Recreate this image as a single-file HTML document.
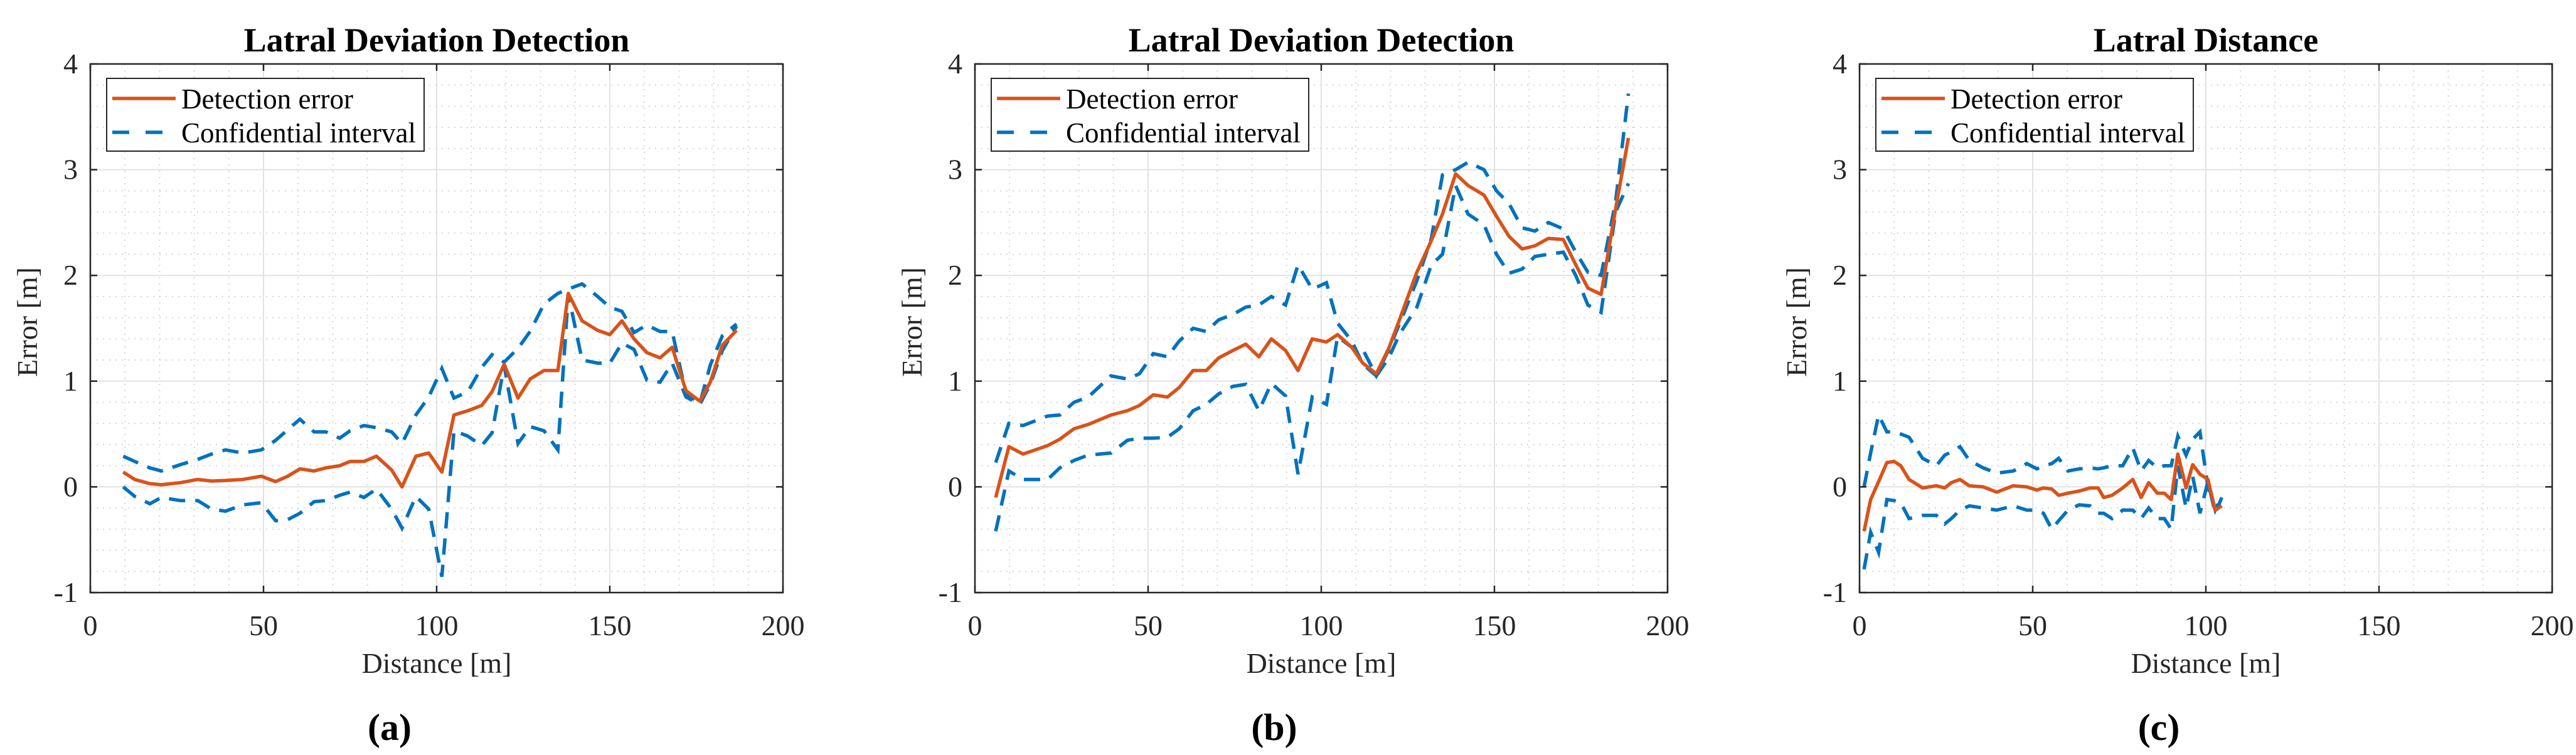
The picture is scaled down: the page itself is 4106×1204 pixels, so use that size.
<!DOCTYPE html>
<html><head><meta charset="utf-8">
<style>
html,body{margin:0;padding:0;background:#fff;}
svg{display:block;font-family:"Liberation Serif",serif;}
svg text{font-family:"Liberation Serif",serif;}
</style></head>
<body>
<svg id="fig" width="4106" height="1204" viewBox="0 0 4106 1204" xmlns="http://www.w3.org/2000/svg" font-family="Liberation Serif, serif"></svg>
<script>
// Panel (a)
const xA = [9.5,12.8,17.2,20.5,26,31,35,39,44,49.4,53.5,57,60.5,64.6,68,72,75,79,82.6,87,90,94,97.7,101.5,105,109,113,116,119.5,123.5,127,131,135,138,142,146.5,150,153.5,157,160.7,164.5,168,172,176,179,182.5,186.6];
const errA = [0.14,0.07,0.03,0.02,0.04,0.07,0.055,0.06,0.07,0.1,0.05,0.1,0.17,0.15,0.18,0.2,0.24,0.24,0.29,0.16,0,0.29,0.32,0.14,0.68,0.72,0.77,0.9,1.16,0.84,1.02,1.1,1.1,1.83,1.57,1.48,1.44,1.57,1.4,1.27,1.22,1.32,0.91,0.81,0.99,1.34,1.48];
const upA = [0.29,0.24,0.18,0.15,0.21,0.26,0.31,0.35,0.32,0.35,0.44,0.54,0.64,0.52,0.52,0.46,0.53,0.58,0.56,0.52,0.41,0.68,0.85,1.12,0.84,0.9,1.13,1.25,1.18,1.31,1.47,1.73,1.83,1.87,1.92,1.8,1.7,1.66,1.46,1.53,1.47,1.47,0.88,0.79,1.15,1.43,1.54];
const loA = [0,-0.09,-0.16,-0.1,-0.13,-0.13,-0.21,-0.23,-0.17,-0.15,-0.32,-0.31,-0.25,-0.14,-0.13,-0.08,-0.05,-0.1,-0.02,-0.21,-0.39,-0.09,-0.21,-0.85,0.53,0.48,0.39,0.51,1.15,0.41,0.57,0.53,0.35,1.82,1.2,1.17,1.17,1.36,1.3,1.01,0.99,1.17,0.85,0.78,0.97,1.29,1.52];
// Panel (b)
const xB = [6,9.8,13.9,21,24.5,28.6,32.7,39.3,44,47.5,51.5,55.6,59,63,66.8,70.4,74.5,78.2,82,85.6,89.7,93.3,97.4,101.5,104.7,108.8,112,115.9,119.5,122.7,127.6,131.8,135,138.8,142.4,147,150.6,154.2,158,161.7,165.6,169.9,173.5,177,180.8,185,188.7];
const errB = [-0.1,0.38,0.31,0.39,0.45,0.55,0.59,0.68,0.72,0.77,0.87,0.85,0.94,1.1,1.1,1.22,1.29,1.35,1.23,1.4,1.29,1.1,1.4,1.37,1.44,1.32,1.17,1.07,1.31,1.59,2.03,2.33,2.58,2.96,2.85,2.76,2.56,2.37,2.25,2.28,2.35,2.34,2.1,1.88,1.82,2.63,3.3];
const upB = [0.23,0.6,0.58,0.67,0.68,0.8,0.85,1.05,1.02,1.07,1.26,1.23,1.38,1.5,1.47,1.58,1.63,1.7,1.72,1.8,1.72,2.1,1.87,1.93,1.55,1.38,1.16,1.05,1.3,1.55,1.95,2.35,2.95,3.0,3.07,3.0,2.8,2.68,2.45,2.42,2.5,2.44,2.22,2.03,2.0,2.7,3.72];
const loB = [-0.42,0.15,0.07,0.07,0.18,0.25,0.3,0.32,0.44,0.46,0.46,0.47,0.55,0.72,0.78,0.88,0.95,0.97,0.72,0.98,0.86,0.12,0.85,0.78,1.42,1.32,1.3,1.05,1.22,1.45,1.7,2.1,2.2,2.85,2.58,2.48,2.2,2.02,2.06,2.18,2.2,2.22,2.0,1.72,1.65,2.6,2.87];
// Panel (c)
const xC = [1.3,3.2,5.5,7.9,10,11.9,14.3,18.2,22.2,24.6,26.5,29,31.7,35.7,39.6,44.4,48.3,51.2,53.1,55.5,57.5,60.2,63.4,66.6,68.9,70.5,72.9,76,78.9,81.3,83.5,86,88,90,91.9,94.3,96.2,98.3,100.6,102.7,104.6];
const errC = [-0.42,-0.12,0.05,0.23,0.24,0.2,0.07,-0.01,0.01,-0.01,0.04,0.07,0.01,0,-0.05,0.01,0,-0.03,-0.01,-0.02,-0.08,-0.06,-0.04,-0.01,-0.01,-0.1,-0.08,-0.01,0.07,-0.1,0.04,-0.06,-0.06,-0.12,0.31,-0.01,0.21,0.12,0.07,-0.22,-0.18];
const upC = [0,0.32,0.68,0.52,0.52,0.5,0.47,0.27,0.2,0.3,0.33,0.38,0.25,0.18,0.13,0.15,0.22,0.17,0.2,0.22,0.27,0.15,0.17,0.18,0.17,0.18,0.2,0.2,0.37,0.15,0.25,0.18,0.2,0.2,0.48,0.3,0.45,0.52,0,-0.22,-0.08];
const loC = [-0.78,-0.43,-0.62,-0.12,-0.13,-0.15,-0.3,-0.27,-0.27,-0.35,-0.3,-0.22,-0.18,-0.2,-0.22,-0.18,-0.22,-0.22,-0.25,-0.4,-0.32,-0.22,-0.17,-0.18,-0.25,-0.25,-0.3,-0.22,-0.22,-0.3,-0.2,-0.3,-0.3,-0.4,0.2,-0.2,0.1,-0.25,0.05,-0.25,-0.1];

const xTicks = [0,50,100,150,200];
const yTicks = [-1,0,1,2,3,4];
const titles = ["Latral Deviation Detection","Latral Deviation Detection","Latral Distance"];
const captions = ["(a)","(b)","(c)"];

const NS = "http://www.w3.org/2000/svg";
const svg = document.getElementById("fig");
function el(tag, attrs, parent, text){
  const e = document.createElementNS(NS, tag);
  for (const k in attrs) e.setAttribute(k, attrs[k]);
  if (text !== undefined) e.textContent = text;
  (parent || svg).appendChild(e);
  return e;
}
const panels = [
  {left:144, x:xA, e:errA, u:upA, l:loA},
  {left:1554, x:xB, e:errB, u:upB, l:loB},
  {left:2964, x:xC, e:errC, u:upC, l:loC}
];
const W = 1104, TOP = 102, BOT = 945;
panels.forEach((p, i) => {
  const g = el("g", {});
  
  
  const sx = v => p.left + v / 200 * W;
  const sy = v => BOT - (v + 1) / 5 * (BOT - TOP);
  for (let v = 10; v < 200; v += 10) if (v % 50) el("line",{x1:sx(v),x2:sx(v),y1:TOP,y2:BOT,stroke:"#d6d6d6","stroke-width":2,"stroke-dasharray":"2 8"},g);
  for (let k = 1; k < 25; k++) { const v = -1 + k*0.2; if (k % 5) el("line",{x1:p.left,x2:p.left+W,y1:sy(v),y2:sy(v),stroke:"#d6d6d6","stroke-width":2,"stroke-dasharray":"2 8"},g); }
  xTicks.forEach(v => { if (v>0 && v<200) el("line",{x1:sx(v),x2:sx(v),y1:TOP,y2:BOT,stroke:"#e2e2e2","stroke-width":2},g); });
  yTicks.forEach(v => { if (v>-1 && v<4) el("line",{x1:p.left,x2:p.left+W,y1:sy(v),y2:sy(v),stroke:"#e2e2e2","stroke-width":2},g); });
  const pts = arr => arr.map((v,j) => sx(p.x[j]).toFixed(1)+","+sy(v).toFixed(1)).join(" ");
  const up = el("polyline",{points:pts(p.u),fill:"none",stroke:"#0072BD","stroke-width":5.5,"stroke-dasharray":"26 16"},g);
  
  
  const lo = el("polyline",{points:pts(p.l),fill:"none",stroke:"#0072BD","stroke-width":5.5,"stroke-dasharray":"26 16"},g);
  
  
  const er = el("polyline",{points:pts(p.e),fill:"none",stroke:"#D95319","stroke-width":5.5,"stroke-linejoin":"round"},g);
  
  
  el("rect",{x:p.left,y:TOP,width:W,height:BOT-TOP,fill:"none",stroke:"#262626","stroke-width":2.5},g);
  xTicks.forEach(v => {
    el("line",{x1:sx(v),x2:sx(v),y1:BOT,y2:BOT-11,stroke:"#262626","stroke-width":2.5},g);
    el("line",{x1:sx(v),x2:sx(v),y1:TOP,y2:TOP+11,stroke:"#262626","stroke-width":2.5},g);
    const t = el("text",{x:sx(v),y:1013,"font-size":46,"font-family":"Liberation Serif, serif","text-anchor":"middle",fill:"#262626"},g,String(v));
    
    
  });
  yTicks.forEach(v => {
    el("line",{x1:p.left,x2:p.left+11,y1:sy(v),y2:sy(v),stroke:"#262626","stroke-width":2.5},g);
    el("line",{x1:p.left+W,x2:p.left+W-11,y1:sy(v),y2:sy(v),stroke:"#262626","stroke-width":2.5},g);
    const t = el("text",{x:p.left-20,y:sy(v)+15,"font-size":46,"font-family":"Liberation Serif, serif","text-anchor":"end",fill:"#262626"},g,String(v));
    
    
  });
  const cx = p.left + W/2;
  const ti = el("text",{x:cx,y:82,"font-size":54,"font-family":"Liberation Serif, serif","font-weight":"bold","text-anchor":"middle",fill:"#000"},g,titles[i]);
  
  
  const xl = el("text",{x:cx,y:1073,"font-size":46,"font-family":"Liberation Serif, serif","text-anchor":"middle",fill:"#262626"},g,"Distance [m]");
  
  
  const yl = el("text",{x:0,y:0,"font-size":46,"font-family":"Liberation Serif, serif","text-anchor":"middle",fill:"#262626",transform:`translate(${p.left-85},${(TOP+BOT)/2 - 10}) rotate(-90)`},g,"Error [m]");
  
  
  const cap = el("text",{x:cx-75,y:1180,"font-size":60,"font-family":"Liberation Serif, serif","font-weight":"bold","text-anchor":"middle",fill:"#000"},g,captions[i]);
  
  
  const lg = el("g",{},g);
  
  
  const L = p.left + 26;
  el("rect",{x:L,y:125,width:506,height:116,fill:"#fff",stroke:"#262626","stroke-width":2},lg);
  el("line",{x1:L+9,x2:L+110,y1:157,y2:157,stroke:"#D95319","stroke-width":5.5},lg);
  el("line",{x1:L+9,x2:L+110,y1:211,y2:211,stroke:"#0072BD","stroke-width":5.5,"stroke-dasharray":"27 26"},lg);
  const t1 = el("text",{x:L+119,y:173,"font-size":46,"font-family":"Liberation Serif, serif",fill:"#000",textLength:274,lengthAdjust:"spacingAndGlyphs"},lg,"Detection error");
  
  
  const t2 = el("text",{x:L+119,y:227,"font-size":46,"font-family":"Liberation Serif, serif",fill:"#000",textLength:374,lengthAdjust:"spacingAndGlyphs"},lg,"Confidential interval");
  
  
});
</script>
</body></html>
